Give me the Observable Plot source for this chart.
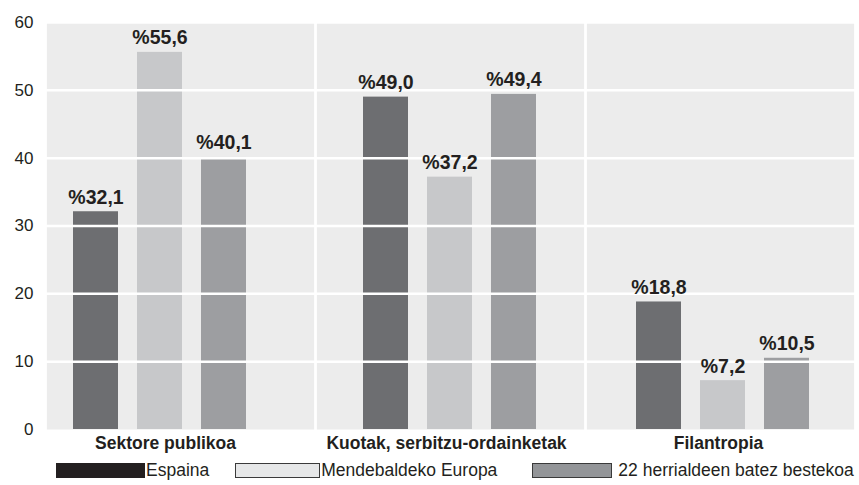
<!DOCTYPE html>
<html>
<head>
<meta charset="utf-8">
<script src="https://cdn.jsdelivr.net/npm/d3@7"></script>
<script src="https://cdn.jsdelivr.net/npm/@observablehq/plot@0.6"></script>
<style>
  body { margin: 0; background: #fff; font-family: "Liberation Sans", Arial, sans-serif; color: #231f20; }
  #chart { width: 859px; }
  .legend { display: flex; align-items: center; height: 30px; font-size: 17.5px; color: #231f20; }
  .legend .item { display: flex; align-items: center; }
  .legend .sw { height: 15px; box-sizing: border-box; }
</style>
</head>
<body>
<div id="chart"></div>
<script>
const categories = ["Sektore publikoa", "Kuotak, serbitzu-ordainketak", "Filantropia"];
const series = ["Espaina", "Mendebaldeko Europa", "22 herrialdeen batez bestekoa"];
const espaina = [32.1, 49.0, 18.8];
const mendebaldekoEuropa = [55.6, 37.2, 7.2];
const batezBestekoa = [40.1, 49.4, 10.5];
const yTicks = [0, 10, 20, 30, 40, 50, 60];

const barColors = ["#6d6e71", "#c7c8ca", "#9d9ea1"];
const legendColors = ["#231f20", "#e6e7e8", "#939598"];
const legendBorders = ["#231f20", "#3a3a3a", "#3a3a3a"];
const barShift = [-20, 0, 3];
const labelShift = [-15, -4, -2];

const seriesValues = [espaina, mendebaldekoEuropa, batezBestekoa];
const rows = [];
categories.forEach((c, ci) => {
  series.forEach((s, si) => rows.push({category: c, series: s, value: seriesValues[si][ci]}));
});
const fmt = v => "%" + v.toFixed(1).replace(".", ",");

const marks = [
  Plot.frame({fill: "#ececec", stroke: "none", insetLeft: 1.4, insetRight: 1.4})
];
categories.forEach((cat, i) => {
  const sub = rows.filter(r => r.category === cat);
  marks.push(Plot.barY(sub, {fx: "category", x: "series", y: "value", fill: "series", dx: barShift[i]}));
});
marks.push(Plot.ruleY(yTicks.filter(t => t > 0), {stroke: "#ffffff", strokeWidth: 2.5}));
categories.forEach((cat, i) => {
  const sub = rows.filter(r => r.category === cat);
  marks.push(Plot.text(sub, {
    fx: "category", x: "series", y: "value", text: d => fmt(d.value),
    dx: barShift[i], dy: -8, lineAnchor: "bottom",
    fontWeight: "bold", fontSize: 19.5, fill: "#231f20"
  }));
  marks.push(Plot.text([cat], {
    fx: d => d, text: d => d, frameAnchor: "bottom", lineAnchor: "bottom",
    dx: labelShift[i], dy: 19.5, fontWeight: "bold", fontSize: 17.5, fill: "#231f20"
  }));
});

const chart = Plot.plot({
  width: 859,
  height: 455,
  marginLeft: 45,
  marginRight: 4,
  marginTop: 22,
  marginBottom: 26,
  style: {fontFamily: "'Liberation Sans', Arial, sans-serif", fontSize: "17px", color: "#231f20", background: "transparent"},
  fx: {domain: categories, padding: 0, axis: null, label: null},
  x: {domain: series, paddingInner: 0.292, paddingOuter: 0.723, axis: null, label: null},
  y: {domain: [0, 60], ticks: yTicks, tickSize: 0, tickPadding: 12, label: null, tickFormat: d => String(d)},
  color: {domain: series, range: barColors},
  marks
});
document.getElementById("chart").appendChild(chart);

// Legend (HTML, below the SVG)
const legend = document.createElement("div");
legend.className = "legend";
const legendLeft = [56, 26, 35];
const swatchWidth = [89, 85, 80];
const textGap = [1, 1, 6];
series.forEach((s, i) => {
  const item = document.createElement("div");
  item.className = "item";
  item.style.marginLeft = legendLeft[i] + "px";
  const sw = document.createElement("span");
  sw.className = "sw";
  sw.style.width = swatchWidth[i] + "px";
  sw.style.background = legendColors[i];
  sw.style.border = "1px solid " + legendBorders[i];
  sw.style.marginRight = textGap[i] + "px";
  const t = document.createElement("span");
  t.textContent = s;
  item.appendChild(sw);
  item.appendChild(t);
  legend.appendChild(item);
});
document.getElementById("chart").appendChild(legend);
</script>
</body>
</html>
